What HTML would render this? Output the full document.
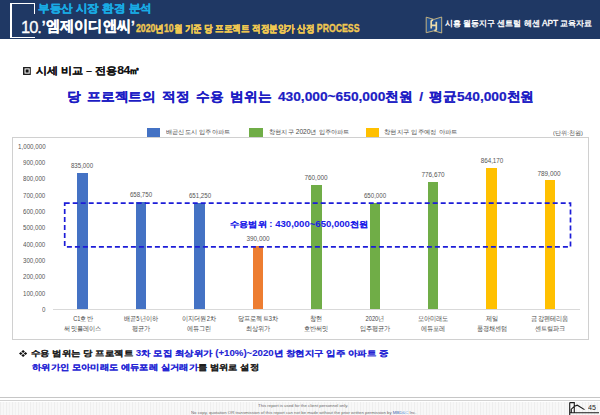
<!DOCTYPE html>
<html><head><meta charset="utf-8">
<style>
*{margin:0;padding:0;box-sizing:border-box}
html,body{width:600px;height:415px;overflow:hidden;background:#fff;font-family:"Liberation Sans",sans-serif}
.tx{position:absolute;white-space:nowrap;line-height:1.15}
.bar{position:absolute}
.sh{position:absolute}
</style></head><body>
<div class="sh" style="left:0;top:0;width:600px;height:39.3px;background:#1f3864"></div>
<div class="sh" style="left:10.3px;top:3.3px;width:1.3px;height:34.6px;background:#fff"></div>
<div class="sh" style="left:10.3px;top:3.3px;width:25px;height:1.2px;background:#fff"></div>
<div class="sh" style="left:34.2px;top:3.3px;width:1.2px;height:10.5px;background:#fff"></div>
<div class="sh" style="left:10.3px;top:36.8px;width:25px;height:1.2px;background:#fff"></div>
<svg class="sh" style="left:424px;top:15px" width="20" height="20" viewBox="0 0 20 20">
<path d="M2.2 2.2 L9.9 4.4 L17.7 2 L17.7 18 L9.9 15.8 L2.2 17.7 Z" fill="#22508f" stroke="#d6bd80" stroke-width="0.9"/>
<path d="M7.2 13.6 V6.2 Q7.4 4.9 9.2 5.1 M12.3 6.8 V14.3 Q12.1 15.6 10.3 15.4 M7.2 10.3 H12.3" stroke="#ecdcaa" stroke-width="1.7" fill="none"/>
</svg>
<div class="sh" style="left:12px;top:137.2px;width:576.5px;height:202.60000000000002px;border:1px solid #d0d0d0"></div>
<div class="sh" style="left:147px;top:128.3px;width:13.3px;height:9px;background:#4472c4"></div>
<div class="sh" style="left:249.3px;top:128.3px;width:13.3px;height:9px;background:#70ad47"></div>
<div class="sh" style="left:366px;top:128.3px;width:12.8px;height:9px;background:#ffc000"></div>
<div class="sh" style="left:53px;top:309.00px;width:527px;height:1px;background:#d9d9d9"></div>
<div class="bar" style="left:77.25px;top:172.81px;width:10.5px;height:136.69px;background:#4472c4"></div>
<div class="bar" style="left:135.70px;top:201.66px;width:10.5px;height:107.84px;background:#4472c4"></div>
<div class="bar" style="left:194.15px;top:202.89px;width:10.5px;height:106.61px;background:#4472c4"></div>
<div class="bar" style="left:252.60px;top:245.66px;width:10.5px;height:63.84px;background:#ed7d31"></div>
<div class="bar" style="left:311.05px;top:185.09px;width:10.5px;height:124.41px;background:#70ad47"></div>
<div class="bar" style="left:369.50px;top:203.09px;width:10.5px;height:106.41px;background:#70ad47"></div>
<div class="bar" style="left:427.95px;top:182.36px;width:10.5px;height:127.14px;background:#70ad47"></div>
<div class="bar" style="left:486.40px;top:168.04px;width:10.5px;height:141.46px;background:#ffc000"></div>
<div class="bar" style="left:544.85px;top:180.34px;width:10.5px;height:129.16px;background:#ffc000"></div>
<svg class="sh" style="left:0;top:0" width="600" height="415">
<rect x="64.7" y="203.2" width="505.8" height="43.60000000000002" fill="none" stroke="#1c1cd8" stroke-width="1.7" stroke-dasharray="5 3"/>
</svg>
<div class="sh" style="left:0;top:397px;width:600px;height:1px;background:#c6c6c6"></div>
<div class="sh" style="left:0;top:400px;width:600px;height:1px;background:#d2d2d2"></div>
<div class="sh" style="left:0;top:401.5px;width:600px;height:14px;background:repeating-linear-gradient(90deg,#eeeeee 0 1px,#f7f7f7 1px 3px,#f1f1f1 3px 4px,#f8f8f8 4px 6px)"></div>
<svg class="sh" style="left:567px;top:402px" width="33" height="13" viewBox="0 0 33 13">
<path d="M2.7 0.6 V13 M2.7 0.6 H7.3 V10.7 M4.3 10.7 V7.2 L7.5 4.3 L10.3 3.2 L17.5 7.6 M2.7 10.7 H32" stroke="#1a1a1a" stroke-width="1.1" fill="none"/>
</svg>
<div class="tx" id="t1" style="top:1.50px;font-size:11.18px;color:#19aae3;font-weight:bold;-webkit-text-stroke:0.35px currentColor;left:37.50px;transform:scaleX(1.0497);transform-origin:0 0;">부동산 시장 환경 분석</div><div class="tx" id="t2" style="top:15.30px;font-size:14.50px;color:#ffffff;font-weight:bold;-webkit-text-stroke:0.35px currentColor;left:21.00px;transform:scaleX(0.9489);transform-origin:0 0;"><span style="font-weight:normal;font-size:1.2em;-webkit-text-stroke-width:0.3px;letter-spacing:-1.1px;position:relative;top:1.5px;margin-right:1px">10.</span>’엠제이디앤씨’</div><div class="tx" id="t3" style="top:23.00px;font-size:10.16px;color:#f0c850;font-weight:bold;-webkit-text-stroke:0.35px currentColor;left:136.00px;transform:scaleX(0.8578);transform-origin:0 0;">2020년10월 기준 당 프로젝트 적정분양가 산정 PROCESS</div><div class="tx" id="t4" style="top:19.30px;font-size:8.38px;color:#ffffff;-webkit-text-stroke:0.35px currentColor;left:445.30px;transform:scaleX(0.9962);transform-origin:0 0;">시흥 월동지구 센트럴 헤센 APT 교육자료</div><div class="tx" id="sub" style="top:64.00px;font-size:9.79px;color:#111111;font-weight:bold;-webkit-text-stroke:0.15px currentColor;left:22.50px;transform:scaleX(1.1095);transform-origin:0 0;"><svg width="7.4" height="8" viewBox="0 0 7.4 8" style="vertical-align:-0.5px;margin-right:4px"><rect x="0.7" y="0.7" width="6" height="6.6" fill="none" stroke="#111" stroke-width="1.3"/><rect x="2.3" y="2.4" width="2.8" height="3.2" fill="#111"/></svg>시세 비교 – 전용<span style="font-size:1.12em;letter-spacing:-0.6px">84</span>㎡</div><div class="tx" id="head" style="top:89.50px;font-size:13.00px;color:#1c1cc4;font-weight:bold;-webkit-text-stroke:0.2px currentColor;left:67.20px;transform:scaleX(1.0569);transform-origin:0 0;word-spacing:2.5px;">당 프로젝트의 적정 수용 범위는 430,000~650,000천원 / 평균540,000천원</div><div class="tx" id="lg1" style="top:127.90px;font-size:6.43px;color:#4a4a4a;left:166.00px;transform:scaleX(1.0393);transform-origin:0 0;">배곧신도시 입주아파트</div><div class="tx" id="lg2" style="top:127.90px;font-size:6.43px;color:#4a4a4a;left:268.50px;transform:scaleX(1.0355);transform-origin:0 0;">창현지구 2020년 입주아파트</div><div class="tx" id="lg3" style="top:127.90px;font-size:6.43px;color:#4a4a4a;left:383.50px;transform:scaleX(1.0587);transform-origin:0 0;">창현지구 입주예정 아파트</div><div class="tx" id="lg4" style="top:130.00px;font-size:5.59px;color:#4a4a4a;left:552.50px;transform:scaleX(1.0215);transform-origin:0 0;">(단위:천원)</div><div class="tx" id="y0" style="top:306.10px;font-size:7.00px;color:#555555;left:41.60px;transform:scaleX(0.8800);transform-origin:0 0;">0</div><div class="tx" id="y1" style="top:289.85px;font-size:7.00px;color:#555555;left:22.50px;transform:scaleX(0.8789);transform-origin:0 0;">100,000</div><div class="tx" id="y2" style="top:273.12px;font-size:7.00px;color:#555555;left:22.50px;transform:scaleX(0.8789);transform-origin:0 0;">200,000</div><div class="tx" id="y3" style="top:256.83px;font-size:7.00px;color:#555555;left:22.50px;transform:scaleX(0.8789);transform-origin:0 0;">300,000</div><div class="tx" id="y4" style="top:240.54px;font-size:7.00px;color:#555555;left:22.50px;transform:scaleX(0.8789);transform-origin:0 0;">400,000</div><div class="tx" id="y5" style="top:223.85px;font-size:7.00px;color:#555555;left:22.50px;transform:scaleX(0.8789);transform-origin:0 0;">500,000</div><div class="tx" id="y6" style="top:207.96px;font-size:7.00px;color:#555555;left:22.50px;transform:scaleX(0.8789);transform-origin:0 0;">600,000</div><div class="tx" id="y7" style="top:191.67px;font-size:7.00px;color:#555555;left:22.50px;transform:scaleX(0.8789);transform-origin:0 0;">700,000</div><div class="tx" id="y8" style="top:175.38px;font-size:7.00px;color:#555555;left:22.50px;transform:scaleX(0.8789);transform-origin:0 0;">800,000</div><div class="tx" id="y9" style="top:159.09px;font-size:7.00px;color:#555555;left:22.50px;transform:scaleX(0.8789);transform-origin:0 0;">900,000</div><div class="tx" id="y10" style="top:142.60px;font-size:7.00px;color:#555555;left:17.50px;transform:scaleX(0.8874);transform-origin:0 0;">1,000,000</div><div class="tx" id="d0" style="top:161.66px;font-size:7.00px;color:#555555;left:82.00px;transform:translateX(-50%) scaleX(0.8784);transform-origin:50% 0;">835,000</div><div class="tx" id="d1" style="top:190.97px;font-size:7.00px;color:#555555;left:140.75px;transform:translateX(-50%) scaleX(0.8784);transform-origin:50% 0;">658,750</div><div class="tx" id="d2" style="top:191.94px;font-size:7.00px;color:#555555;left:199.80px;transform:translateX(-50%) scaleX(0.8784);transform-origin:50% 0;">651,250</div><div class="tx" id="d3" style="top:234.82px;font-size:7.00px;color:#555555;left:257.75px;transform:translateX(-50%) scaleX(0.9131);transform-origin:50% 0;">390,000</div><div class="tx" id="d4" style="top:174.30px;font-size:7.00px;color:#555555;left:315.60px;transform:translateX(-50%) scaleX(0.9131);transform-origin:50% 0;">760,000</div><div class="tx" id="d5" style="top:192.41px;font-size:7.00px;color:#555555;left:374.75px;transform:translateX(-50%) scaleX(0.8784);transform-origin:50% 0;">650,000</div><div class="tx" id="d6" style="top:170.91px;font-size:7.00px;color:#555555;left:432.90px;transform:translateX(-50%) scaleX(0.9131);transform-origin:50% 0;">776,670</div><div class="tx" id="d7" style="top:157.28px;font-size:7.00px;color:#555555;left:491.75px;transform:translateX(-50%) scaleX(0.8954);transform-origin:50% 0;">864,170</div><div class="tx" id="d8" style="top:169.59px;font-size:7.00px;color:#555555;left:549.20px;transform:translateX(-50%) scaleX(0.9131);transform-origin:50% 0;">789,000</div><div class="tx" id="ca0" style="top:315.40px;font-size:6.50px;color:#474747;left:82.50px;transform:translateX(-50%) scaleX(0.8819);transform-origin:50% 0;">C1호반</div><div class="tx" id="cb0" style="top:325.00px;font-size:6.50px;color:#474747;left:82.50px;transform:translateX(-50%) scaleX(0.8819);transform-origin:50% 0;">써밋플레이스</div><div class="tx" id="ca1" style="top:315.40px;font-size:6.50px;color:#474747;left:140.95px;transform:translateX(-50%) scaleX(0.8819);transform-origin:50% 0;">배곧5년이하</div><div class="tx" id="cb1" style="top:325.00px;font-size:6.50px;color:#474747;left:140.95px;transform:translateX(-50%) scaleX(0.8819);transform-origin:50% 0;">평균가</div><div class="tx" id="ca2" style="top:315.40px;font-size:6.50px;color:#474747;left:199.40px;transform:translateX(-50%) scaleX(0.8819);transform-origin:50% 0;">이지더원2차</div><div class="tx" id="cb2" style="top:325.00px;font-size:6.50px;color:#474747;left:199.40px;transform:translateX(-50%) scaleX(0.8819);transform-origin:50% 0;">에듀그린</div><div class="tx" id="ca3" style="top:315.40px;font-size:6.50px;color:#474747;left:257.85px;transform:translateX(-50%) scaleX(0.8819);transform-origin:50% 0;">당프로젝트3차</div><div class="tx" id="cb3" style="top:325.00px;font-size:6.50px;color:#474747;left:257.85px;transform:translateX(-50%) scaleX(0.8819);transform-origin:50% 0;">최상위가</div><div class="tx" id="ca4" style="top:315.40px;font-size:6.50px;color:#474747;left:316.30px;transform:translateX(-50%) scaleX(0.8819);transform-origin:50% 0;">창현</div><div class="tx" id="cb4" style="top:325.00px;font-size:6.50px;color:#474747;left:316.30px;transform:translateX(-50%) scaleX(0.8819);transform-origin:50% 0;">호반써밋</div><div class="tx" id="ca5" style="top:315.40px;font-size:6.50px;color:#474747;left:374.75px;transform:translateX(-50%) scaleX(0.8819);transform-origin:50% 0;">2020년</div><div class="tx" id="cb5" style="top:325.00px;font-size:6.50px;color:#474747;left:374.75px;transform:translateX(-50%) scaleX(0.8819);transform-origin:50% 0;">입주평균가</div><div class="tx" id="ca6" style="top:315.40px;font-size:6.50px;color:#474747;left:433.20px;transform:translateX(-50%) scaleX(0.8819);transform-origin:50% 0;">모아미래도</div><div class="tx" id="cb6" style="top:325.00px;font-size:6.50px;color:#474747;left:433.20px;transform:translateX(-50%) scaleX(0.8819);transform-origin:50% 0;">에듀포레</div><div class="tx" id="ca7" style="top:315.40px;font-size:6.50px;color:#474747;left:491.65px;transform:translateX(-50%) scaleX(0.8819);transform-origin:50% 0;">제일</div><div class="tx" id="cb7" style="top:325.00px;font-size:6.50px;color:#474747;left:491.65px;transform:translateX(-50%) scaleX(0.8819);transform-origin:50% 0;">풍경채센텀</div><div class="tx" id="ca8" style="top:315.40px;font-size:6.50px;color:#474747;left:550.10px;transform:translateX(-50%) scaleX(0.8819);transform-origin:50% 0;">금강펜테리움</div><div class="tx" id="cb8" style="top:325.00px;font-size:6.50px;color:#474747;left:550.10px;transform:translateX(-50%) scaleX(0.8819);transform-origin:50% 0;">센트럴파크</div><div class="tx" id="boxt" style="top:219.50px;font-size:8.33px;color:#1c1ce8;font-weight:bold;-webkit-text-stroke:0.05px currentColor;left:230.30px;transform:scaleX(1.1474);transform-origin:0 0;">수용범위 : 430,000~650,000천원</div><div class="tx" id="b1" style="top:349.00px;font-size:8.20px;color:#1e1e1e;font-weight:bold;-webkit-text-stroke:0.08px currentColor;left:19.00px;transform:scaleX(1.1787);transform-origin:0 0;"><svg width="7" height="7" viewBox="0 0 7 7" style="vertical-align:-0.5px;margin-right:3px"><path d="M3.5 0 L5 1.5 L3.5 3 L2 1.5Z M3.5 4 L5 5.5 L3.5 7 L2 5.5Z M0 3.5 L1.5 2 L3 3.5 L1.5 5Z M4 3.5 L5.5 2 L7 3.5 L5.5 5Z" fill="#111"/></svg>수용 범위는 당 프로젝트 <span style="color:#2424d4">3차 모집 최상위가 (+10%)~2020년 창현지구 입주 아파트 중</span></div><div class="tx" id="b2" style="top:363.00px;font-size:8.20px;color:#1e1e1e;font-weight:bold;-webkit-text-stroke:0.08px currentColor;left:32.00px;transform:scaleX(1.1615);transform-origin:0 0;"><span style="color:#2424d4">하위가인 모아미래도 에듀포레 실거래가</span>를 범위로 설정</div><div class="tx" id="f1" style="top:404.40px;font-size:4.00px;color:#6a6a6a;left:257.80px;transform:scaleX(1.0772);transform-origin:0 0;">This report is used for the client personnel only.</div><div class="tx" id="f2" style="top:410.80px;font-size:4.00px;color:#6a6a6a;left:191.00px;transform:scaleX(1.0769);transform-origin:0 0;">No copy, quotation OR transmission of this report can not be made without the prior written permission by <span style="color:#3b64b0">MBD</span><span style="color:#6fa0e0">&amp;C</span> Inc.</div><div class="tx" id="pg" style="top:402.50px;font-size:8.00px;color:#222222;left:588.00px;transform:scaleX(0.8889);transform-origin:0 0;">45</div>
</body></html>
